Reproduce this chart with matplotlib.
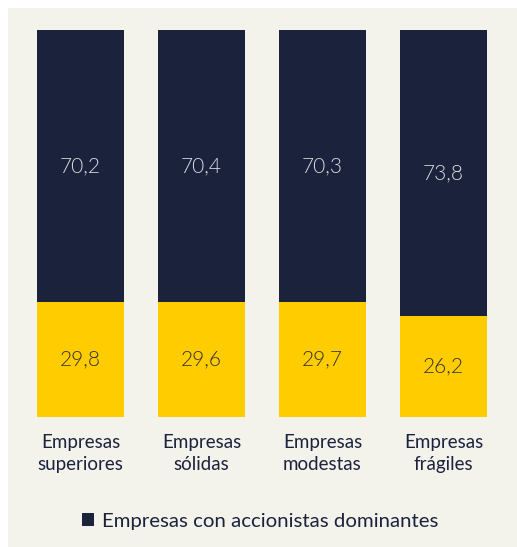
import matplotlib.pyplot as plt
from matplotlib.patches import Rectangle

# Datos
categorias = ['Empresas\nsuperiores', 'Empresas\nsólidas', 'Empresas\nmodestas', 'Empresas\nfrágiles']
dominantes = [70.2, 70.4, 70.3, 73.8]
resto = [29.8, 29.6, 29.7, 26.2]
etiqueta_leyenda = 'Empresas con accionistas dominantes'

azul = '#1a223c'
amarillo = '#ffcc00'
fondo = '#f3f2eb'

plt.rcParams['font.family'] = ['Lato', 'DejaVu Sans']

W, H = 517, 547
fig = plt.figure(figsize=(W / 100, H / 100), dpi=100, facecolor='white')
fig.patches.append(Rectangle((8 / W, 0), 1 - 8 / W, 1 - 8 / H, transform=fig.transFigure,
                             facecolor=fondo, edgecolor='none', zorder=-1))

ax = fig.add_axes([37 / W, (H - 417) / H, 450 / W, 387 / H])
ax.set_facecolor('none')

x = range(len(categorias))
ancho = 87 / 121
b1 = ax.bar(x, resto, width=ancho, color=amarillo)
b2 = ax.bar(x, dominantes, width=ancho, bottom=resto, color=azul)

for i in x:
    ax.text(i, resto[i] / 2, f'{resto[i]:.1f}'.replace('.', ','), ha='center', va='center',
            fontsize=15, fontweight=300, color='#333333')
    ax.text(i, resto[i] + dominantes[i] / 2, f'{dominantes[i]:.1f}'.replace('.', ','),
            ha='center', va='center', fontsize=15, fontweight=300, color='#dcdce0')

ax.set_xlim(-ancho / 2, 3 + ancho / 2)
ax.set_ylim(0, 100)
ax.set_xticks(list(x))
ax.set_xticklabels(categorias, fontsize=13.5, color=azul, linespacing=1.4)
ax.tick_params(axis='x', length=0, pad=12)
ax.set_yticks([])
for s in ax.spines.values():
    s.set_visible(False)

fig.legend(handles=[b2], labels=[etiqueta_leyenda], loc='center',
           bbox_to_anchor=(0.503, 1 - 521 / H), frameon=False, fontsize=14.7,
           handlelength=0.6, handleheight=0.6, handletextpad=0.4, labelcolor=azul)

fig.savefig('out.png', dpi=100, facecolor='white')
